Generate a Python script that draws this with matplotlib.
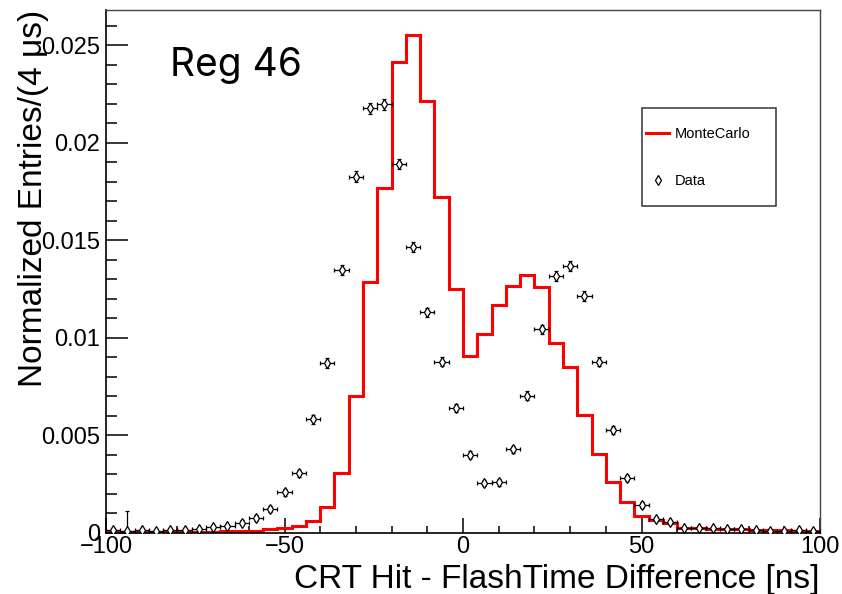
import matplotlib
matplotlib.use("Agg")
import matplotlib.pyplot as plt
from matplotlib.lines import Line2D
from matplotlib.patches import Rectangle
from matplotlib.ticker import MultipleLocator, FuncFormatter
import numpy as np

# histogram binning: 50 bins of 4 ns from -100 to 100
bin_edges = np.arange(-100, 101, 4)
bin_centres = 0.5 * (bin_edges[:-1] + bin_edges[1:])

# Monte Carlo (normalized entries per bin)
mc_values = [
    0.00003, 0.00003, 0.00003, 0.00003, 0.00004, 0.00004, 0.00004, 0.00005,
    0.00006, 0.00007, 0.00009, 0.00016, 0.00022, 0.00032, 0.00057, 0.00130,
    0.00303, 0.00700, 0.01286, 0.01768, 0.02415, 0.02551, 0.02213, 0.01719,
    0.01247, 0.00905, 0.01016, 0.01167, 0.01264, 0.01320, 0.01260, 0.00970,
    0.00847, 0.00603, 0.00405, 0.00260, 0.00155, 0.00085, 0.00064, 0.00047,
    0.00025, 0.00022, 0.00020, 0.00018, 0.00016, 0.00014, 0.00013, 0.00012,
    0.00010, 0.00010,
]

# data points (normalized entries per bin) and their errors
data_values = [
    0.00013, 0.00010, 0.00013, 0.00010, 0.00013, 0.00013, 0.00016, 0.00030,
    0.00035, 0.00050, 0.00074, 0.00120, 0.00206, 0.00303, 0.00580, 0.00870,
    0.01346, 0.01825, 0.02175, 0.02197, 0.01890, 0.01463, 0.01129, 0.00876,
    0.00637, 0.00399, 0.00252, 0.00257, 0.00428, 0.00702, 0.01042, 0.01315,
    0.01367, 0.01214, 0.00876, 0.00526, 0.00278, 0.00141, 0.00071, 0.00055,
    0.00022, 0.00025, 0.00022, 0.00017, 0.00017, 0.00012, 0.00010, 0.00010,
    0.00012, 0.00009,
]
data_errors = [
    0.00008, 0.00100, 0.00008, 0.00008, 0.00008, 0.00008, 0.00008, 0.00010,
    0.00010, 0.00012, 0.00014, 0.00016, 0.00018, 0.00020, 0.00022, 0.00024,
    0.00026, 0.00028, 0.00028, 0.00028, 0.00028, 0.00026, 0.00024, 0.00022,
    0.00020, 0.00018, 0.00016, 0.00016, 0.00018, 0.00022, 0.00024, 0.00026,
    0.00026, 0.00026, 0.00022, 0.00020, 0.00016, 0.00014, 0.00010, 0.00010,
    0.00008, 0.00008, 0.00008, 0.00008, 0.00008, 0.00008, 0.00008, 0.00008,
    0.00008, 0.00008,
]

plt.rcParams["font.family"] = ["Liberation Sans", "DejaVu Sans"]

W, H = 842, 594
fig = plt.figure(figsize=(W / 100, H / 100), dpi=100)
ax = fig.add_axes([106 / W, 1 - 532.5 / H, 714 / W, 522.5 / H])

# MC histogram
ax.stairs(mc_values, bin_edges, color="red", lw=2.2, baseline=None, zorder=2)

# data with error bars
ax.errorbar(bin_centres, data_values, xerr=2, yerr=data_errors, fmt="d",
            ms=5.5, mfc="white", mec="black", mew=0.9, ecolor="black",
            elinewidth=0.9, capsize=1.5, capthick=0.9, zorder=3)

ax.set_xlim(-100, 100)
ax.set_ylim(0, 0.0268)

# ticks in ROOT style
ax.xaxis.set_major_locator(MultipleLocator(50))
ax.xaxis.set_minor_locator(MultipleLocator(10))
ax.yaxis.set_major_locator(MultipleLocator(0.005))
ax.yaxis.set_minor_locator(MultipleLocator(0.001))
ax.yaxis.set_major_formatter(FuncFormatter(lambda v, p: "%g" % round(v, 4)))
ax.tick_params(axis="both", which="both", direction="in", top=False,
               right=False, color="black", labelsize=17)
ax.tick_params(axis="y", which="major", length=15.8, width=1.1, pad=4.3)
ax.tick_params(axis="y", which="minor", length=7.9, width=1.1)
ax.tick_params(axis="x", which="major", length=10.8, width=1.1, pad=2.5)
ax.tick_params(axis="x", which="minor", length=5.4, width=1.1)

for s in ["left", "bottom"]:
    ax.spines[s].set_linewidth(1.2)
    ax.spines[s].set_color("black")
for s in ["top", "right"]:
    ax.spines[s].set_linewidth(1.0)
    ax.spines[s].set_color("#444444")

# axis titles
fig.text(34 / W, 1 - 10 / H, "Normalized Entries/(4 \u03bcs)", rotation=90,
         ha="center", va="top", fontsize=24)
fig.text(820 / W, 1 - 588 / H, "CRT Hit - FlashTime Difference [ns]",
         ha="right", va="baseline", fontsize=24)

# region label
fig.text(170 / W, 1 - 76 / H, "Reg 46", ha="left", va="baseline",
         fontsize=28, family=["Inter", "DejaVu Sans"])

# legend box
fig.patches.append(Rectangle((641.7 / W, 1 - 206 / H), 134.3 / W, 98 / H,
                             transform=fig.transFigure, fill=False,
                             edgecolor="#333333", lw=1.1))
handles = [
    Line2D([], [], color="red", lw=2.2),
    Line2D([], [], marker="d", ls="none", ms=5.5, mfc="white", mec="black",
           mew=0.9),
]
ax.legend(handles, ["MonteCarlo", "Data"], frameon=False, loc="center left",
          bbox_to_anchor=(646 / W, 1 - 157.5 / H),
          bbox_transform=fig.transFigure, fontsize=10.5, handlelength=1.6,
          handletextpad=0.4, labelspacing=2.3, borderpad=0, borderaxespad=0)

fig.savefig("out.png", dpi=100)
